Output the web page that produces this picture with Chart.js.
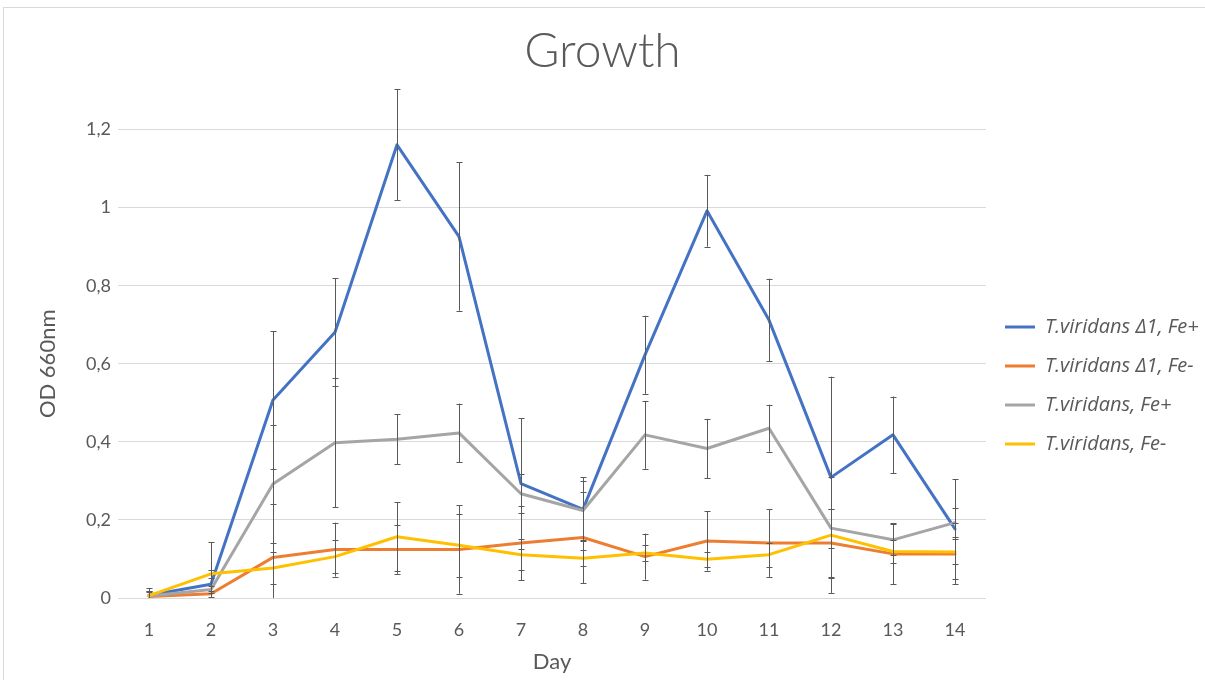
<!DOCTYPE html>
<html>
<head>
<meta charset="utf-8">
<title>Growth</title>
<script src="https://cdn.jsdelivr.net/npm/chart.js@4.4.0/dist/chart.umd.min.js"></script>
<style>
	body { margin: 0; background: #fff; }
	.frame { position: absolute; left: 3px; top: 7px; width: 1300px; height: 800px; border: 1px solid #d9d9d9; }
	.wrap { position: absolute; left: 0; top: 0; width: 1205px; height: 680px; }
</style>
</head>
<body>
<div class="frame"></div>
<div class="wrap"><canvas class="growth_canvas" width="1205" height="680"></canvas></div>
<script>
const days = ['1', '2', '3', '4', '5', '6', '7', '8', '9', '10', '11', '12', '13', '14'];
const yTicks = ['0', '0,2', '0,4', '0,6', '0,8', '1', '1,2'];

const seriesNames = ['T.viridans \u03941, Fe+', 'T.viridans \u03941, Fe-', 'T.viridans, Fe+', 'T.viridans, Fe-'];

const delta1FePlus = [0.007, 0.035, 0.507, 0.681, 1.161, 0.926, 0.293, 0.227, 0.623, 0.992, 0.712, 0.309, 0.418, 0.177];
const delta1FePlusErr = [0.018, 0.108, 0.176, 0.138, 0.142, 0.19, 0.167, 0.082, 0.1, 0.092, 0.106, 0.258, 0.098, 0.128];

const delta1FeMinus = [0.004, 0.011, 0.104, 0.124, 0.124, 0.124, 0.141, 0.155, 0.106, 0.146, 0.141, 0.141, 0.113, 0.113];
const delta1FeMinusErr = [0.012, 0.008, 0.136, 0.069, 0.062, 0.113, 0.095, 0.117, 0.059, 0.076, 0.087, 0.088, 0.078, 0.078];

const wildFePlus = [0.005, 0.022, 0.292, 0.398, 0.407, 0.423, 0.267, 0.224, 0.418, 0.383, 0.435, 0.179, 0.149, 0.193];
const wildFePlusErr = [0.014, 0.01, 0.152, 0.165, 0.064, 0.075, 0.05, 0.075, 0.087, 0.076, 0.06, 0.05, 0.04, 0.037];

const wildFeMinus = [0.006, 0.062, 0.077, 0.106, 0.157, 0.135, 0.111, 0.102, 0.115, 0.099, 0.111, 0.161, 0.119, 0.118];
const wildFeMinusErr = [0.012, 0.01, 0.04, 0.043, 0.088, 0.08, 0.04, 0.02, 0.02, 0.02, 0.031, 0.148, 0.03, 0.032];

const textColor = '#595959';

function makeLine(i, values, errs, color) {
	return {
		label: seriesNames[i],
		data: values,
		errors: errs,
		borderColor: color,
		backgroundColor: color,
		borderWidth: 3,
		pointRadius: 0,
		tension: 0,
		borderJoinStyle: 'round',
		borderCapStyle: 'round',
		order: 4 - i
	};
}

// error bars, drawn through the y scale
const errorBars = {
	id: 'errorBars',
	afterDatasetsDraw(chart) {
		const c = chart.ctx;
		const y = chart.scales.y;
		c.save();
		c.strokeStyle = '#595959';
		c.lineWidth = 1;
		chart.data.datasets.forEach(function(ds, di) {
			const meta = chart.getDatasetMeta(di);
			meta.data.forEach(function(pt, i) {
				const v = ds.data[i];
				const e = ds.errors[i];
				const top = y.getPixelForValue(v + e);
				const lowVal = v - e;
				const bottom = y.getPixelForValue(Math.max(0, lowVal));
				const x = Math.round(pt.x) + 0.5;
				c.beginPath();
				c.moveTo(x, top);
				c.lineTo(x, bottom);
				c.moveTo(x - 3, Math.round(top) + 0.5);
				c.lineTo(x + 3, Math.round(top) + 0.5);
				if (lowVal >= 0) {
					c.moveTo(x - 3, Math.round(bottom) + 0.5);
					c.lineTo(x + 3, Math.round(bottom) + 0.5);
				}
				c.stroke();
			});
		});
		c.restore();
	}
};

// keep the legend at a fixed width so the plot area ends where it should
const legendWidth = {
	id: 'legendWidth',
	beforeLayout(chart) {
		const lg = chart.legend;
		if (lg && !lg._fixed) {
			const fit = lg.fit;
			lg.fit = function() {
				fit.call(this);
				this.width = 219;
			};
			lg._fixed = true;
		}
	}
};

const ctx = document.querySelector('.growth_canvas');
const growth_chart = new Chart(ctx, {
	type: 'line',
	data: {
		labels: days,
		datasets: [
			makeLine(0, delta1FePlus, delta1FePlusErr, '#4472C4'),
			makeLine(1, delta1FeMinus, delta1FeMinusErr, '#ED7D31'),
			makeLine(2, wildFePlus, wildFePlusErr, '#A5A5A5'),
			makeLine(3, wildFeMinus, wildFeMinusErr, '#FFC000')
		]
	},
	options: {
		responsive: false,
		animation: false,
		devicePixelRatio: 1,
		layout: { padding: 0 },
		plugins: {
			tooltip: { enabled: false },
			title: {
				display: true,
				text: 'Growth',
				color: textColor,
				font: { family: 'Lato', size: 48, weight: 300 },
				padding: { top: 23, bottom: 49 }
			},
			legend: {
				position: 'right',
				fullSize: false,
				align: 'center',
				title: { display: true, text: '', font: { size: 1 }, padding: { top: 42, bottom: 0 } },
				labels: {
					color: textColor,
					font: { family: 'Open Sans', size: 20, style: 'italic' },
					boxWidth: 30,
					boxHeight: 3,
					padding: 19,
					sort: function(a, b) { return a.datasetIndex - b.datasetIndex; },
					generateLabels: function(chart) {
						const items = Chart.defaults.plugins.legend.labels.generateLabels(chart);
						items.forEach(function(it) {
							it.lineWidth = 0;
							it.fillStyle = it.strokeStyle;
						});
						return items;
					}
				}
			}
		},
		scales: {
			x: {
				offset: true,
				grid: { display: false },
				border: { display: false },
				ticks: { color: textColor, font: { family: 'Lato', size: 18 }, padding: 13, maxRotation: 0 },
				title: { display: true, text: 'Day', color: textColor, font: { family: 'Lato', size: 22 }, padding: { top: 0, bottom: 5 } },
				afterFit: function(scale) { scale.height = 82; }
			},
			y: {
				min: 0,
				max: 1.2,
				grid: { color: '#d9d9d9', lineWidth: 1, drawTicks: false },
				border: { display: false },
				ticks: {
					stepSize: 0.2,
					color: textColor,
					font: { family: 'Lato', size: 18 },
					padding: 7,
					callback: function(value, index) { return yTicks[index]; }
				},
				title: { display: true, text: 'OD 660nm', color: textColor, font: { family: 'Lato', size: 22 }, padding: { top: 35, bottom: 0 } },
				afterFit: function(scale) { scale.width = 118; }
			}
		}
	},
	plugins: [errorBars, legendWidth]
});
</script>
</body>
</html>
